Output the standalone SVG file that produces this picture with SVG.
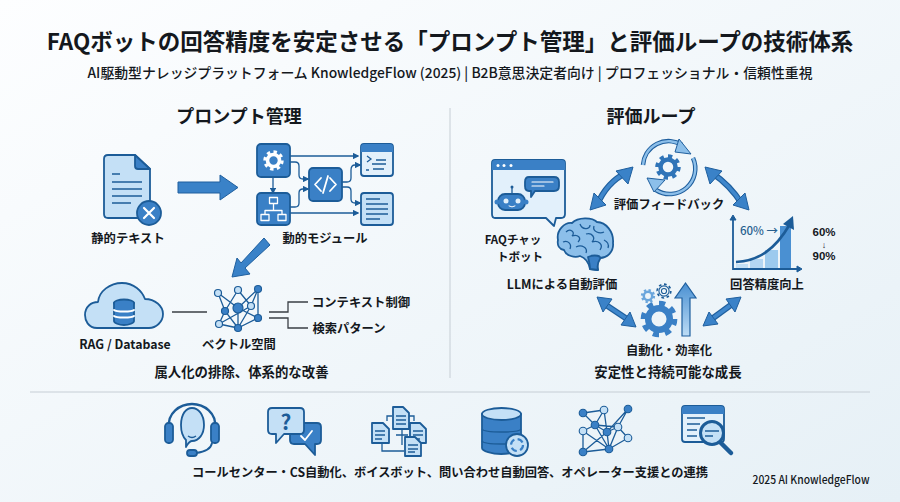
<svg xmlns="http://www.w3.org/2000/svg" width="900" height="502" viewBox="0 0 900 502">
<style>
text{font-family:"Noto Sans CJK JP","Noto Sans",sans-serif;font-weight:700;fill:#14181d;text-anchor:middle}
.t13{font-size:12.300px}.t14{font-size:13.400px}
.ls{font-family:"Liberation Sans",sans-serif}
.d{stroke:#1c5c98;stroke-width:1.8;stroke-linejoin:round;stroke-linecap:round}
.f0{fill:none}.fl{fill:#c4e0f6}.fp{fill:#e2f0fb}.fm{fill:#3a80c6}.fw{fill:#fff}.fk{fill:#1c5c98}
.w{stroke:#fff;stroke-width:1.8;fill:none;stroke-linecap:round;stroke-linejoin:round}
.k{stroke:#1c5c98;stroke-width:1.3;fill:none}
.g{stroke:#3a3f45;stroke-width:1.3;fill:none}
.big{fill:#3a82c8;stroke:#1f5f9e;stroke-width:1}
.a1{fill:none;stroke:#1f5f9e;stroke-width:6}.a2{fill:none;stroke:#3f87cc;stroke-width:3.6}
</style>
<defs>
<linearGradient id="bg" x1="0" y1="0" x2="1" y2="1"><stop offset="0" stop-color="#fdfeff"/><stop offset="1" stop-color="#e6f0f6"/></linearGradient>
<linearGradient id="up" x1="0" y1="0" x2="0" y2="1"><stop offset="0" stop-color="#4a90d2"/><stop offset="1" stop-color="#bcdcf5"/></linearGradient>
<marker id="ah" markerWidth="5" markerHeight="5" refX="4" refY="2.5" orient="auto"><path d="M0 0L5 2.5L0 5Z" fill="#1c5c98"/></marker>
<g id="gear"><circle r="8.4" fill="none" stroke="currentColor" stroke-width="3.6" stroke-dasharray="1 1" pathLength="16"/><circle r="6" fill="none" stroke="currentColor" stroke-width="3.6"/></g>
</defs>
<rect width="900" height="502" fill="url(#bg)"/>

<g id="title">
<text x="450" y="50" font-size="22.500">FAQボットの回答精度を安定させる「プロンプト管理」と評価ループの技術体系</text>
<text x="450" y="78" font-size="14" textLength="725" lengthAdjust="spacingAndGlyphs" style="font-weight:500">AI駆動型ナレッジプラットフォーム KnowledgeFlow (2025) | B2B意思決定者向け | プロフェッショナル・信頼性重視</text>
<text x="239" y="123" font-size="18">プロンプト管理</text>
<text x="651" y="123" font-size="18">評価ループ</text>
<path d="M450 108V378" stroke="#c6ced5" stroke-width="1"/>
<path d="M30 392H870" stroke="#c6ced5" stroke-width="1"/>
</g>

<g id="connectors">
<path class="big" d="M178 182H220V175L238 187.500L220 200V193H178Z"/>
<path class="big" d="M264 238L270 245L245 268L250 274L232 277L237 258L241 263Z"/>
<g class="k">
<path d="M273 177V193" marker-end="url(#ah)"/>
<path d="M290 156H358" marker-end="url(#ah)"/>
<path d="M290 162H295Q299 162 299 166V175Q299 179 303 179H308" marker-end="url(#ah)"/>
<path d="M290 207H295Q299 207 299 203V193Q299 189 303 189H308" marker-end="url(#ah)"/>
<path d="M290 213H358" marker-end="url(#ah)"/>
<path d="M342 182H347Q351 182 351 178V170Q351 165 355 165H360" marker-end="url(#ah)"/>
<path d="M342 187H347Q351 187 351 191V199Q351 203 355 203H360" marker-end="url(#ah)"/>
</g>
<path class="g" d="M172 312H207"/>
<path class="g" d="M269 312H288V302H308M269 318H288V328H308"/>
<g id="loop-arrows">
<path class="a1" d="M597 205Q607 182 626 173"/><path class="a2" d="M597 205Q607 182 626 173"/>
<path class="big" d="M590 210L594 193L606 205Z"/><path class="big" d="M633 167L616 171L628 184Z"/>
<path class="a1" d="M712 173Q730 185 742 204"/><path class="a2" d="M712 173Q730 185 742 204"/>
<path class="big" d="M705 167L722 171L710 184Z"/><path class="big" d="M749 210L745 193L733 205Z"/>
<path class="a1" d="M603 303L630 321"/><path class="a2" d="M603 303L630 321"/>
<path class="big" d="M597 297L612 299L603 312Z"/><path class="big" d="M636 327L621 325L630 312Z"/>
<path class="a1" d="M735 302L709 321"/><path class="a2" d="M735 302L709 321"/>
<path class="big" d="M741 297L726 299L735 312Z"/><path class="big" d="M703 326L718 324L709 312Z"/>
</g>
</g>

<g id="node-static-text">
<path class="d fl" d="M104 159Q104 155 108 155H135L150 169V214Q150 218 146 218H108Q104 218 104 214Z"/>
<path class="d fm" d="M135 155V166Q135 169 138 169H150Z"/>
<path class="k" d="M112 174H120M112 182H142M112 189H142M112 196H142M112 203H131" stroke-width="1.5"/>
<circle class="d fm" cx="149" cy="213" r="12"/>
<path class="w" style="stroke-width:2.200" d="M144 208L154 218M154 208L144 218"/>
<text class="t13" x="128" y="243">静的テキスト</text>
</g>

<g id="node-dynamic-module">
<rect class="d fm" x="257" y="144" width="33" height="33" rx="4"/>
<use href="#gear" transform="translate(273.500 160.500) scale(1)" color="#fff"/>
<rect class="d fm" x="257" y="193" width="33" height="32" rx="4"/>
<path class="w" style="stroke-width:1.300" d="M269.500 197.500h8v6h-8zM261 214.500h8v6h-8zM278 214.500h8v6h-8zM273.500 203.500v7M265 214.500v-4h17v4"/>
<rect class="d fm" x="309" y="168" width="33" height="33" rx="4"/>
<path class="w" d="M321 178L315 184.500L321 191M330 178L336 184.500L330 191M328 176L323 193"/>
<rect class="d fp" x="361" y="144" width="32" height="32" rx="3"/>
<path class="fm" d="M361 152V147Q361 144 364 144H390Q393 144 393 147V152Z"/>
<path class="k" d="M367 156L371 159L367 162M372 164H377M376 160H386M376 164H386M373 169H384M366 170H369"/>
<rect class="d fl" x="361" y="193" width="32" height="32" rx="3"/>
<path class="k" d="M366 199H380M366 204H388M366 209H388M366 214H388M366 219H380" stroke-width="1.500"/>
<text class="t13" x="325" y="243">動的モジュール</text>
</g>

<g id="node-rag">
<path class="d fl" d="M97 328C88 328 85 320 85 315C85 307 91 302 98 302C99 291 110 283 122 283C134 283 142 291 145 299C155 299 163 306 163 314C163 322 156 328 149 328Z"/>
<ellipse class="d fm" cx="124" cy="303" rx="10" ry="3.500"/>
<path class="d fm" d="M114 303V321C114 323 119 325 124 325C129 325 134 323 134 321V303"/>
<path class="w" d="M114 310C116 312 132 312 134 310M114 316C116 318 132 318 134 316"/>
<text class="t13" x="125" y="349">RAG / Database</text>
</g>

<g id="node-vector">
<path class="k" d="M218 293L225 311L238 328M218 293L238 308M238 290L225 311M238 290L251 306M258 289L251 306M258 289L258 318M258 289L238 308M225 311L219 324M238 308L258 318M238 308L238 328M251 306L238 328M258 318L238 328M219 324L238 328M219 324L251 306"/>
<g class="d" style="stroke-width:1.200">
<circle class="fl" cx="218" cy="293" r="3.500"/><circle class="fl" cx="238" cy="290" r="3.500"/><circle class="fm" cx="258" cy="289" r="3.500"/>
<circle class="fm" cx="225" cy="311" r="3.500"/><circle class="fm" cx="238" cy="308" r="5"/><circle class="fl" cx="251" cy="306" r="3.500"/>
<circle class="fm" cx="258" cy="318" r="3.500"/><circle class="fl" cx="219" cy="324" r="3.500"/><circle class="fm" cx="238" cy="328" r="3.500"/>
</g>
<text class="t13" x="239" y="349">ベクトル空間</text>
</g>
<g id="node-context"><text class="t13" x="361" y="307">コンテキスト制御</text></g>
<g id="node-search"><text class="t13" x="349" y="333">検索パターン</text></g>
<g id="caption-left"><text class="t14" x="241.500" y="377">属人化の排除、体系的な改善</text></g>

<g id="node-chatbot">
<path class="d fp" d="M495 160H562Q565 160 565 163V214Q565 218 561 218H556L554 226L546 218H495Q492 218 492 214V163Q492 160 495 160Z"/>
<path class="fm" d="M492 170V163Q492 160 495 160H562Q565 160 565 163V170Z"/>
<circle cx="498" cy="165.500" r="1.500" class="fw"/><circle cx="504" cy="165.500" r="1.500" class="fw"/><circle cx="511" cy="165.500" r="1.500" class="fw"/>
<path class="d fm" d="M529 177H554Q559 177 559 182V186Q559 191 554 191H535L531 197V191H529Q525 191 525 186V182Q525 177 529 177Z"/>
<path class="w" style="stroke-width:1.200" d="M532 182H553M532 186H544"/>
<rect class="d fm" x="498" y="194" width="27" height="16" rx="7"/>
<circle class="fm" cx="497" cy="202" r="2.500"/><circle class="fm" cx="526" cy="202" r="2.500"/>
<circle class="fp" cx="506" cy="201" r="2.500"/><circle class="fp" cx="518" cy="201" r="2.500"/>
<path class="w" style="stroke-width:1" d="M509 206Q512 208 515 206"/>
<path class="k" d="M512 194V188"/><circle class="fk" cx="512" cy="187" r="1.500"/>
<text x="513" y="243.500" font-size="11.500">FAQチャッ</text>
<text x="520" y="260.500" font-size="11.500">トボット</text>
</g>

<g id="node-llm">
<path class="d" style="fill:#8cbfea" d="M558 240C556 230 565 222 572 223C578 217 592 217 597 222C606 222 614 232 613 243C614 252 607 258 600 258C597 260 597 266 598 270L590 269C589 264 586 258 580 256C575 258 566 256 564 250C559 249 557 245 558 240Z"/>
<path class="k" d="M566 232C570 228 576 232 572 236C578 234 582 238 578 242M580 224C582 230 590 230 590 225M594 226C592 232 600 234 604 232M586 234C592 232 596 238 592 242C598 240 604 244 600 250M563 242C568 240 572 244 570 249M576 247C582 244 588 248 586 253M604 240C608 242 609 245 608 248"/>
<path class="d fm" d="M588 257C595 254 602 256 600 259C598 262 597 266 598 270L590 269C590 265 589 261 588 257Z"/>
<text class="t13" x="562" y="289">LLMによる自動評価</text>
</g>

<g id="node-feedback">
<use href="#gear" transform="translate(668 167) scale(1.250)" color="#2f74b8"/>
<path fill="none" stroke="#1f5f9e" stroke-width="4.500" d="M643 165A25.500 25.500 0 0 1 682 145"/>
<path fill="none" stroke="#8cbfea" stroke-width="2.400" d="M643 165A25.500 25.500 0 0 1 682 145"/>
<path class="big" style="fill:#8cbfea" d="M679 139L691 154L675 152Z"/>
<path fill="none" stroke="#1f5f9e" stroke-width="4.500" d="M693 158A25.500 25.500 0 0 1 656 190"/>
<path fill="none" stroke="#8cbfea" stroke-width="2.400" d="M693 158A25.500 25.500 0 0 1 656 190"/>
<path class="big" style="fill:#8cbfea" d="M647 178L665 180L654 192Z"/>
<text class="t13" x="669" y="209">評価フィードバック</text>
</g>

<g id="node-accuracy">
<path fill="#c4e0f6" d="M736 264H748V268H736Z"/>
<path fill="#b4d6f2" d="M750 259H763V268H750Z"/>
<path fill="#9ccaee" d="M765 250H778V268H765Z"/>
<path fill="#4a90d2" d="M780 226H791V268H780Z"/>
<path d="M733 218V269H800" fill="none" stroke="#1c5c98" stroke-width="1.800"/>
<path d="M733 215L730 220H736ZM802 269L797 266V272Z" class="fk" stroke="#1c5c98"/>
<path d="M736 262C758 261 775 250 790 224" fill="none" stroke="#1c5c98" stroke-width="2.600"/>
<path class="fk" d="M793 216L794 230L783 224Z"/>
<text x="759" y="235" font-size="11.500" style="fill:#27608f;font-weight:500">60% →</text>
<text class="t13" x="767" y="289">回答精度向上</text>
<text class="ls" x="824" y="236" font-size="11.500">60%</text>
<text class="ls" x="824" y="247.500" font-size="9">↓</text>
<text class="ls" x="824" y="260" font-size="11.500">90%</text>
</g>

<g id="node-automation">
<use href="#gear" transform="translate(659 319) scale(1.800)" color="#3a80c6"/>
<use href="#gear" transform="translate(648 296) scale(.7)" color="#6ba6dc"/>
<g transform="translate(664 291) scale(.85)" color="#1c5c98"><circle r="8" fill="none" stroke="currentColor" stroke-width="2" stroke-dasharray="1 1" pathLength="16"/><circle r="6" fill="none" stroke="currentColor" stroke-width="1.300"/><circle r="3" fill="none" stroke="currentColor" stroke-width="1.300"/></g>
<path d="M682 336V298H675L685.500 283L696 298H690V336Z" fill="url(#up)" stroke="#1f5f9e" stroke-width="1.200"/>
<text class="t13" x="669" y="355">自動化・効率化</text>
</g>
<g id="caption-right"><text class="t14" x="668" y="377">安定性と持続可能な成長</text></g>

<g id="icon-headset">
<path class="d fl" d="M181 425C181 414 186 408 192 408C198 408 204 414 204 425C204 434 199 441 192 441C189 441 188 444 186 447L186 440C183 437 181 431 181 425Z"/>
<path class="d f0" style="stroke-width:2.400" d="M169 428C167 413 180 404 192 404C204 404 217 413 215 428"/>
<rect class="d fm" x="165" y="423" width="8" height="20" rx="3.500"/><rect class="d fm" x="211" y="423" width="8" height="20" rx="3.500"/>
<path class="d f0" d="M212 443C211 449 204 452 196 453"/><rect class="d fm" x="187" y="450" width="10" height="6" rx="3"/>
<path class="k" d="M188 436Q192 439 196 436"/>
</g>
<g id="icon-qa">
<path class="d fm" d="M294 423H317Q321 423 321 427V440Q321 444 317 444H315V455L305 444H294Q290 444 290 440V427Q290 423 294 423Z"/>
<path class="w" d="M301 436L305 440L312 431"/>
<path class="d fl" d="M272 408H300Q304 408 304 412V430Q304 434 300 434H284L276 443V434H272Q268 434 268 430V412Q268 408 272 408Z"/>
<text x="286" y="430" font-size="21" style="fill:#1c5c98">?</text>
</g>
<g id="icon-docs">
<path class="k" d="M387 421V416H392M408 416H414V421M396 435H408M402 428V445M382 444V451H404"/>
<path class="d fl" d="M393 407H403L409 413V429H393Z"/><path class="k" d="M396 416H406M396 420H406M396 424H406"/>
<path class="d fl" d="M372 423H383L389 429V443H372Z"/><path class="k" d="M375 431H385M375 435H385M375 439H382"/>
<path class="d fl" d="M410 423H420L426 429V443H410Z"/><path class="k" d="M413 431H423M413 435H423M413 439H420"/>
<path class="d fl" d="M405 437H415L421 443V456H405Z"/><path class="k" d="M408 445H418M408 449H418M408 452H415"/>
</g>
<g id="icon-db">
<path class="d fm" d="M482 414V448C482 451 492 454 501 454C511 454 521 451 521 448V414"/>
<ellipse class="d fl" cx="501.500" cy="414" rx="19.500" ry="6"/>
<path class="k" d="M482 429C484 433 519 433 521 429M482 441C484 445 519 445 521 441"/>
<circle class="d fl" cx="517" cy="445" r="11"/>
<circle cx="517" cy="445" r="6" fill="none" stroke="#3a80c6" stroke-width="2.200" stroke-dasharray="6 3.400"/>
</g>
<g id="icon-network">
<path class="k" d="M583 413L595 425M583 413L604 410M604 410L595 425M604 410L607 432M628 409L618 427M628 409L607 432M595 425L583 431M595 425L607 432M595 425L618 427M595 425L609 449M583 431L583 452M583 431L609 449M607 432L618 427M607 432L583 452M607 432L609 449M618 427L628 438M618 427L609 449M628 438L609 449M583 452L609 449"/>
<g class="d" style="stroke-width:1.100">
<circle class="fm" cx="583" cy="413" r="3.800"/><circle class="fl" cx="604" cy="410" r="3.800"/><circle class="fm" cx="628" cy="409" r="3.800"/>
<circle class="fm" cx="595" cy="425" r="3.800"/><circle class="fl" cx="583" cy="431" r="3.800"/><circle class="fm" cx="607" cy="432" r="3.800"/>
<circle class="fl" cx="618" cy="427" r="3.800"/><circle class="fl" cx="628" cy="438" r="3.800"/><circle class="fm" cx="583" cy="452" r="3.800"/><circle class="fm" cx="609" cy="449" r="3.800"/>
</g>
</g>
<g id="icon-search">
<rect class="d fp" x="682" y="406" width="42" height="36" rx="3"/>
<path class="fm" d="M682 414V409Q682 406 685 406H721Q724 406 724 409V414Z"/>
<path class="k" d="M687 418H705M687 424H700M687 430H697M687 436H697"/>
<path d="M720 442L731 453" stroke="#1c5c98" stroke-width="4.500" stroke-linecap="round"/>
<circle cx="712" cy="433" r="11.500" fill="#c4e0f6" stroke="#1c5c98" stroke-width="3"/>
<path class="k" d="M705 431H719M705 436H713"/>
</g>
<g id="caption-bottom">
<text class="t13" x="450" y="477" textLength="516" lengthAdjust="spacingAndGlyphs">コールセンター・CS自動化、ボイスボット、問い合わせ自動回答、オペレーター支援との連携</text>
<text x="811" y="484" font-size="11.500" textLength="117" lengthAdjust="spacingAndGlyphs" style="font-weight:500">2025 AI KnowledgeFlow</text>
</g>
</svg>
